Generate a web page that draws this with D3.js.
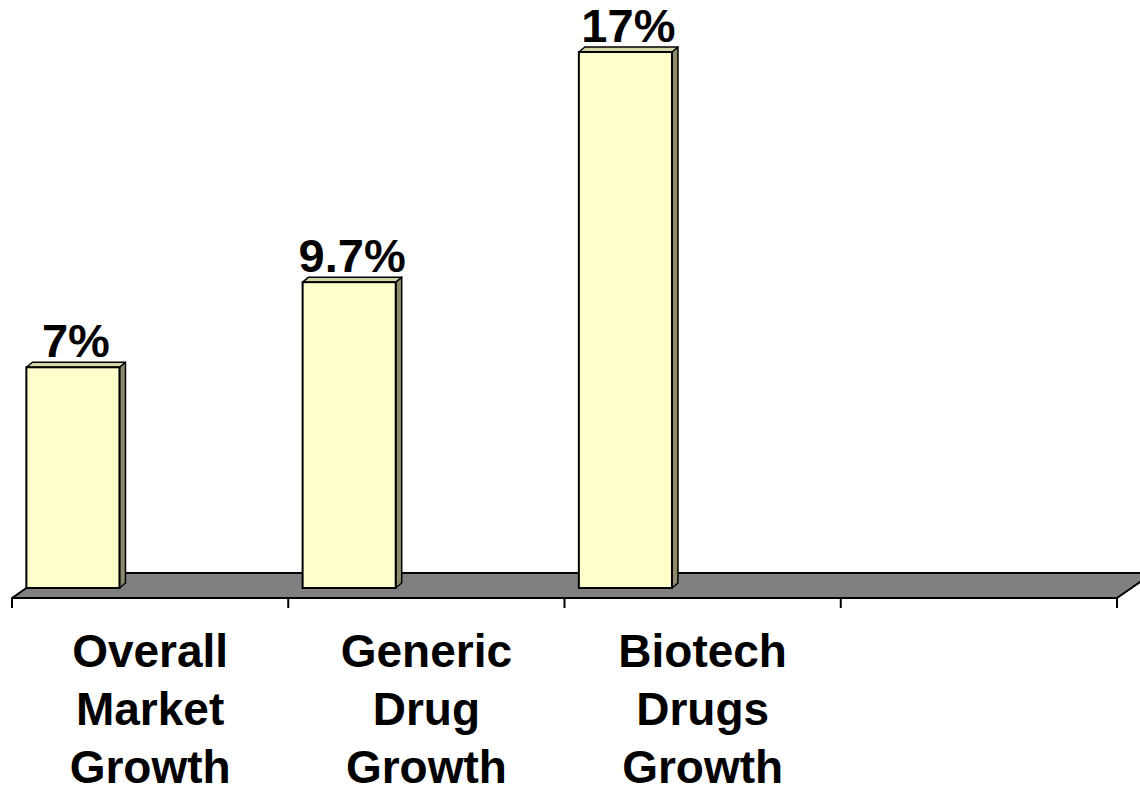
<!DOCTYPE html>
<meta charset="utf-8">
<script src="https://d3js.org/d3.v7.min.js"></script>
<title>Growth</title>
<style>
  body { margin: 0; background: white; }
  text { font-family: "Liberation Sans", Arial, sans-serif; font-weight: bold; fill: black; }
</style>
<div id="chart"></div>
<script>
// data
var categories = ["Overall Market Growth", "Generic Drug Growth", "Biotech Drugs Growth", ""];
var values = [7, 9.7, 17, null];
var valueLabels = ["7%", "9.7%", "17%", ""];

var W = 1140, H = 786;
var svg = d3.select("#chart").append("svg")
    .attr("width", W).attr("height", H);

var floorY = 598, floorDepthX = 36, floorDepthY = 25;
var barBase = 588, barDX = 6, barDY = 5;

var x = d3.scaleBand()
    .domain(d3.range(categories.length))
    .range([12, 1117])
    .padding(0);

var y = d3.scaleLinear()
    .domain([0, 17])
    .range([barBase, 52]);

var bw = x.bandwidth();

// floor
var x0 = x.range()[0], x1 = x.range()[1];
svg.append("polygon")
    .attr("points", [[x0, floorY], [x1, floorY], [x1 + floorDepthX, floorY - floorDepthY], [x0 + floorDepthX, floorY - floorDepthY]].join(" "))
    .attr("fill", "#808080")
    .attr("stroke", "black")
    .attr("stroke-width", 2)
    .attr("stroke-linejoin", "round");

// ticks at band edges
var edges = d3.range(categories.length).map(function(i) { return x(i); }).concat([x1]);
svg.selectAll(".tick").data(edges).enter().append("line")
    .attr("x1", function(d) { return d; })
    .attr("x2", function(d) { return d; })
    .attr("y1", floorY)
    .attr("y2", floorY + 10)
    .attr("stroke", "black")
    .attr("stroke-width", 2);

// bars
var idx = d3.range(values.length).filter(function(i) { return values[i] != null; });
var bars = svg.selectAll(".bar").data(idx).enter().append("g").attr("class", "bar");

function bx(i) { return x(i) + bw * 0.052; }
var barW = bw * 0.337;

bars.append("polygon") // side
    .attr("points", function(i) {
      var l = bx(i) + barW, t = y(values[i]);
      return [[l, t], [l + barDX, t - barDY], [l + barDX, barBase - barDY], [l, barBase]].join(" ");
    })
    .attr("fill", "#8c8c6c").attr("stroke", "black").attr("stroke-width", 1.5).attr("stroke-linejoin", "round");

bars.append("polygon") // top
    .attr("points", function(i) {
      var l = bx(i), t = y(values[i]);
      return [[l, t], [l + barDX, t - barDY], [l + barW + barDX, t - barDY], [l + barW, t]].join(" ");
    })
    .attr("fill", "#d6d6a8").attr("stroke", "black").attr("stroke-width", 1.5).attr("stroke-linejoin", "round");

bars.append("rect") // front
    .attr("x", function(i) { return bx(i); })
    .attr("y", function(i) { return y(values[i]); })
    .attr("width", barW)
    .attr("height", function(i) { return barBase - y(values[i]); })
    .attr("fill", "#ffffcc").attr("stroke", "black").attr("stroke-width", 2);

bars.append("text")
    .attr("x", function(i) { return bx(i) + barW / 2 + 3; })
    .attr("y", function(i) { return y(values[i]) - 10; })
    .attr("text-anchor", "middle")
    .style("font-size", "47px")
    .text(function(i) { return valueLabels[i]; });

// category labels
var cat = svg.selectAll(".cat").data(d3.range(categories.length)).enter().append("text")
    .attr("class", "cat")
    .attr("text-anchor", "middle")
    .style("font-size", "46px");
cat.selectAll("tspan")
    .data(function(i) { return categories[i] ? categories[i].split(" ").map(function(w) { return {w: w, i: i}; }) : []; })
    .enter().append("tspan")
    .attr("x", function(d) { return x(d.i) + bw / 2; })
    .attr("y", function(d, j) { return 667 + j * 58; })
    .text(function(d) { return d.w; });
</script>
